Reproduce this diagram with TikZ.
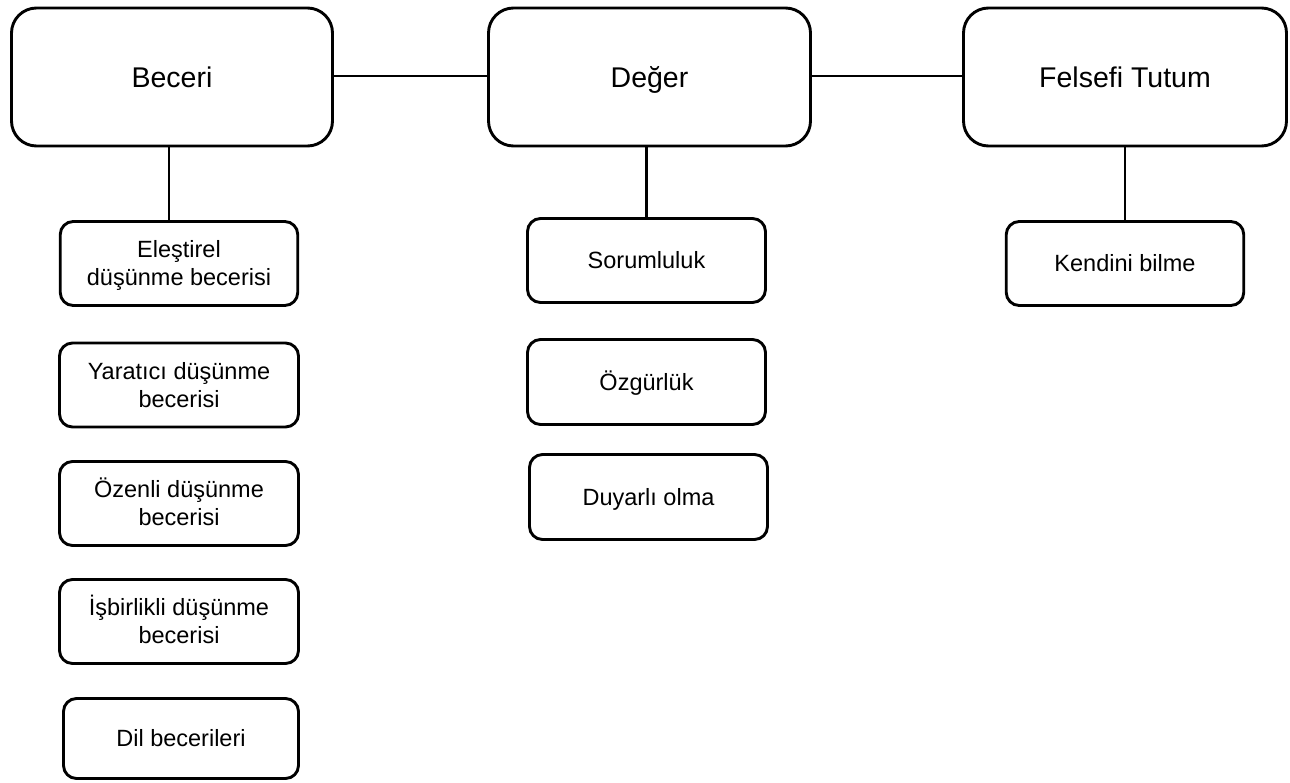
\documentclass[tikz,border=0pt]{standalone}
\usepackage{fontspec}
\setmainfont{Liberation Sans}
\begin{document}
\begin{tikzpicture}[x=1pt,y=-1pt,
  roundbox/.style={draw=black, line width=2.9pt, rounded corners=#1,
    inner sep=0pt, outer sep=0pt, align=center, text depth=0pt},
  topbox/.style={roundbox=25pt, minimum width=321pt, minimum height=138pt,
    font=\fontsize{28.5}{34}\selectfont, text height=20.4pt},
  subbox/.style={roundbox=13pt, minimum width=237.5pt, minimum height=84pt,
    font=\fontsize{23.5}{28}\selectfont, text height=16.8pt},
  twoline/.style={text height=44.8pt},
  link/.style={line width=2.9pt}]
\useasboundingbox (0,0) rectangle (1290,782);

% main categories
\node[topbox] (beceri) at (172,77) {Beceri};
\node[topbox, minimum width=322pt] (deger) at (649.5,77) {Değer};
\node[topbox, minimum width=323pt] (felsefi) at (1125,77) {Felsefi Tutum};

% skills
\node[subbox, twoline] (elestirel) at (179,263.5) {Eleştirel\\düşünme becerisi};
\node[subbox, twoline, minimum width=239pt] (yaratici) at (179,385) {Yaratıcı düşünme\\becerisi};
\node[subbox, twoline, minimum width=239pt] (ozenli) at (179,503.5) {Özenli düşünme\\becerisi};
\node[subbox, twoline, minimum width=239pt] (isbirlikli) at (179,621.5) {İşbirlikli düşünme\\becerisi};
\node[subbox, minimum width=235pt, minimum height=80pt] (dil) at (181,738.5) {Dil becerileri};

% values
\node[subbox, minimum width=238pt] (sorumluluk) at (646.5,260.5) {Sorumluluk};
\node[subbox, minimum width=238pt, minimum height=85pt] (ozgurluk) at (646.5,382) {Özgürlük};
\node[subbox, minimum width=238pt, minimum height=85pt] (duyarli) at (648.5,497) {Duyarlı olma};

% philosophical attitude
\node[subbox] (kendini) at (1125,263.5) {Kendini bilme};

% connectors
\draw[link] ([yshift=1pt]beceri.east) -- ([yshift=1pt]deger.west);
\draw[link] ([yshift=1pt]deger.east) -- ([yshift=1pt]felsefi.west);
\draw[link] ([xshift=-3pt]beceri.south) -- ([xshift=-3pt]beceri.south |- elestirel.north);
\draw[link] (deger.south -| sorumluluk.north) -- (sorumluluk.north);
\draw[link] (felsefi.south) -- (kendini.north);
\end{tikzpicture}
\end{document}
